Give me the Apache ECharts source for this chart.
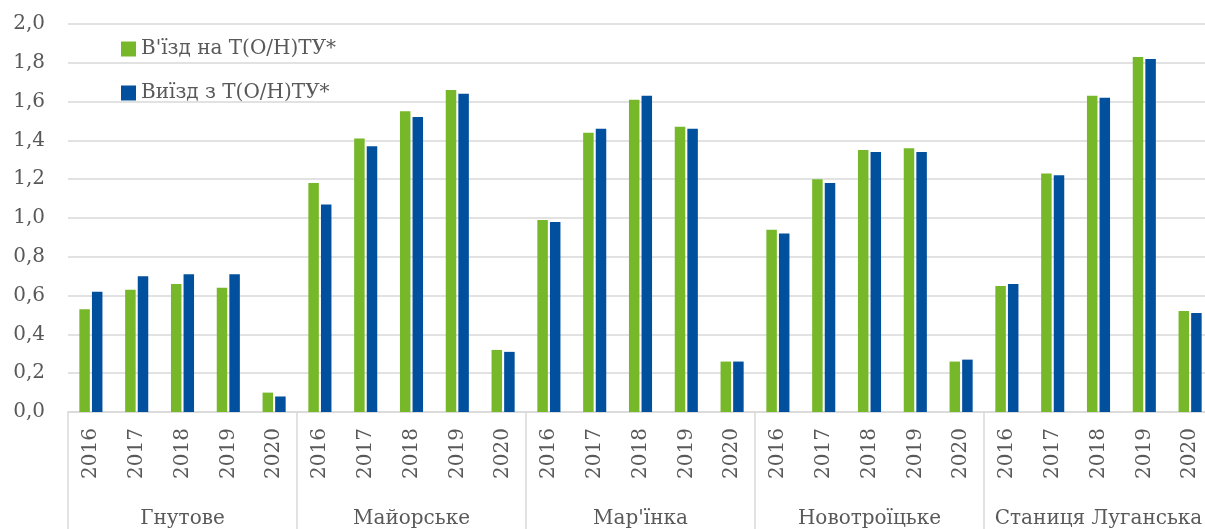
<!DOCTYPE html>
<html>
<head>
<meta charset="utf-8">
<script src="https://cdn.jsdelivr.net/npm/echarts@6/dist/echarts.min.js"></script>
<style>
  html, body { margin: 0; padding: 0; background: #fff; }
  #chart { width: 1205px; height: 529px; }
</style>
</head>
<body>
<div id="chart"></div>
<script>
// дані
const groups = ['Гнутове', 'Майорське', "Мар'їнка", 'Новотроїцьке', 'Станиця Луганська'];
const years = ['2016', '2017', '2018', '2019', '2020'];
const seriesNames = ["В'їзд на Т(О/Н)ТУ*", 'Виїзд з Т(О/Н)ТУ*'];

// В'їзд, по групах (2016..2020)
const entryValues = [
    0.53, 0.63, 0.66, 0.64, 0.10,
    1.18, 1.41, 1.55, 1.66, 0.32,
    0.99, 1.44, 1.61, 1.47, 0.26,
    0.94, 1.20, 1.35, 1.36, 0.26,
    0.65, 1.23, 1.63, 1.83, 0.52
];
// Виїзд
const exitValues = [
    0.62, 0.70, 0.71, 0.71, 0.08,
    1.07, 1.37, 1.52, 1.64, 0.31,
    0.98, 1.46, 1.63, 1.46, 0.26,
    0.92, 1.18, 1.34, 1.34, 0.27,
    0.66, 1.22, 1.62, 1.82, 0.51
];

const yTicks = [0, 0.2, 0.4, 0.6, 0.8, 1.0, 1.2, 1.4, 1.6, 1.8, 2.0];

const categories = [];
groups.forEach(function (g) {
    years.forEach(function (y) { categories.push(y); });
});

const textColor = '#595959';
const gridColor = '#d9d9d9';
const fontFamily = '"DejaVu Serif", serif';

const chart = echarts.init(document.getElementById('chart'));

const options = {
    animation: false,
    textStyle: { fontFamily: fontFamily },
    grid: {
        left: 68,
        width: 1145,
        top: 24,
        bottom: 117,
        outerBoundsMode: 'none',
        containLabel: false,
    },
    legend: {
        orient: 'vertical',
        left: 116,
        top: 34,
        itemWidth: 15,
        itemHeight: 15,
        itemGap: 24,
        icon: 'rect',
        textStyle: { fontSize: 20, color: textColor, fontFamily: fontFamily },
        data: seriesNames,
    },
    xAxis: [
        {
            type: 'category',
            data: categories,
            position: 'bottom',
            axisLine: { lineStyle: { color: gridColor, width: 1.5 } },
            axisTick: {
                show: true,
                length: 120,
                interval: function (index) { return index % 5 === 0; },
                lineStyle: { color: gridColor, width: 1.5 },
            },
            axisLabel: {
                interval: 0,
                rotate: 90,
                margin: 16,
                fontSize: 20,
                color: textColor,
                fontFamily: fontFamily,
            },
        },
        {
            type: 'category',
            data: groups,
            position: 'bottom',
            offset: 0,
            axisLine: { show: false },
            axisTick: { show: false },
            axisLabel: {
                interval: 0,
                margin: 97,
                fontSize: 20,
                color: textColor,
                fontFamily: fontFamily,
            },
        },
    ],
    yAxis: {
        type: 'value',
        min: 0,
        max: 2.0,
        interval: 0.2,
        axisLine: { show: false },
        axisTick: { show: false },
        splitLine: { lineStyle: { color: gridColor, width: 1.5 } },
        axisLabel: {
            margin: 23,
            fontSize: 20,
            color: textColor,
            fontFamily: fontFamily,
            formatter: function (v) {
                const t = yTicks.find(function (k) { return Math.abs(k - v) < 1e-6; });
                return (t !== undefined ? t : v).toFixed(1).replace('.', ',');
            },
        },
    },
    series: [
        {
            name: seriesNames[0],
            type: 'bar',
            xAxisIndex: 0,
            data: entryValues,
            barWidth: 10.5,
            barGap: '20%',
            itemStyle: { color: '#76B82A' },
        },
        {
            name: seriesNames[1],
            type: 'bar',
            xAxisIndex: 0,
            data: exitValues,
            barWidth: 10.5,
            barGap: '20%',
            itemStyle: { color: '#00509D' },
        },
    ],
};

chart.setOption(options);
</script>
</body>
</html>
